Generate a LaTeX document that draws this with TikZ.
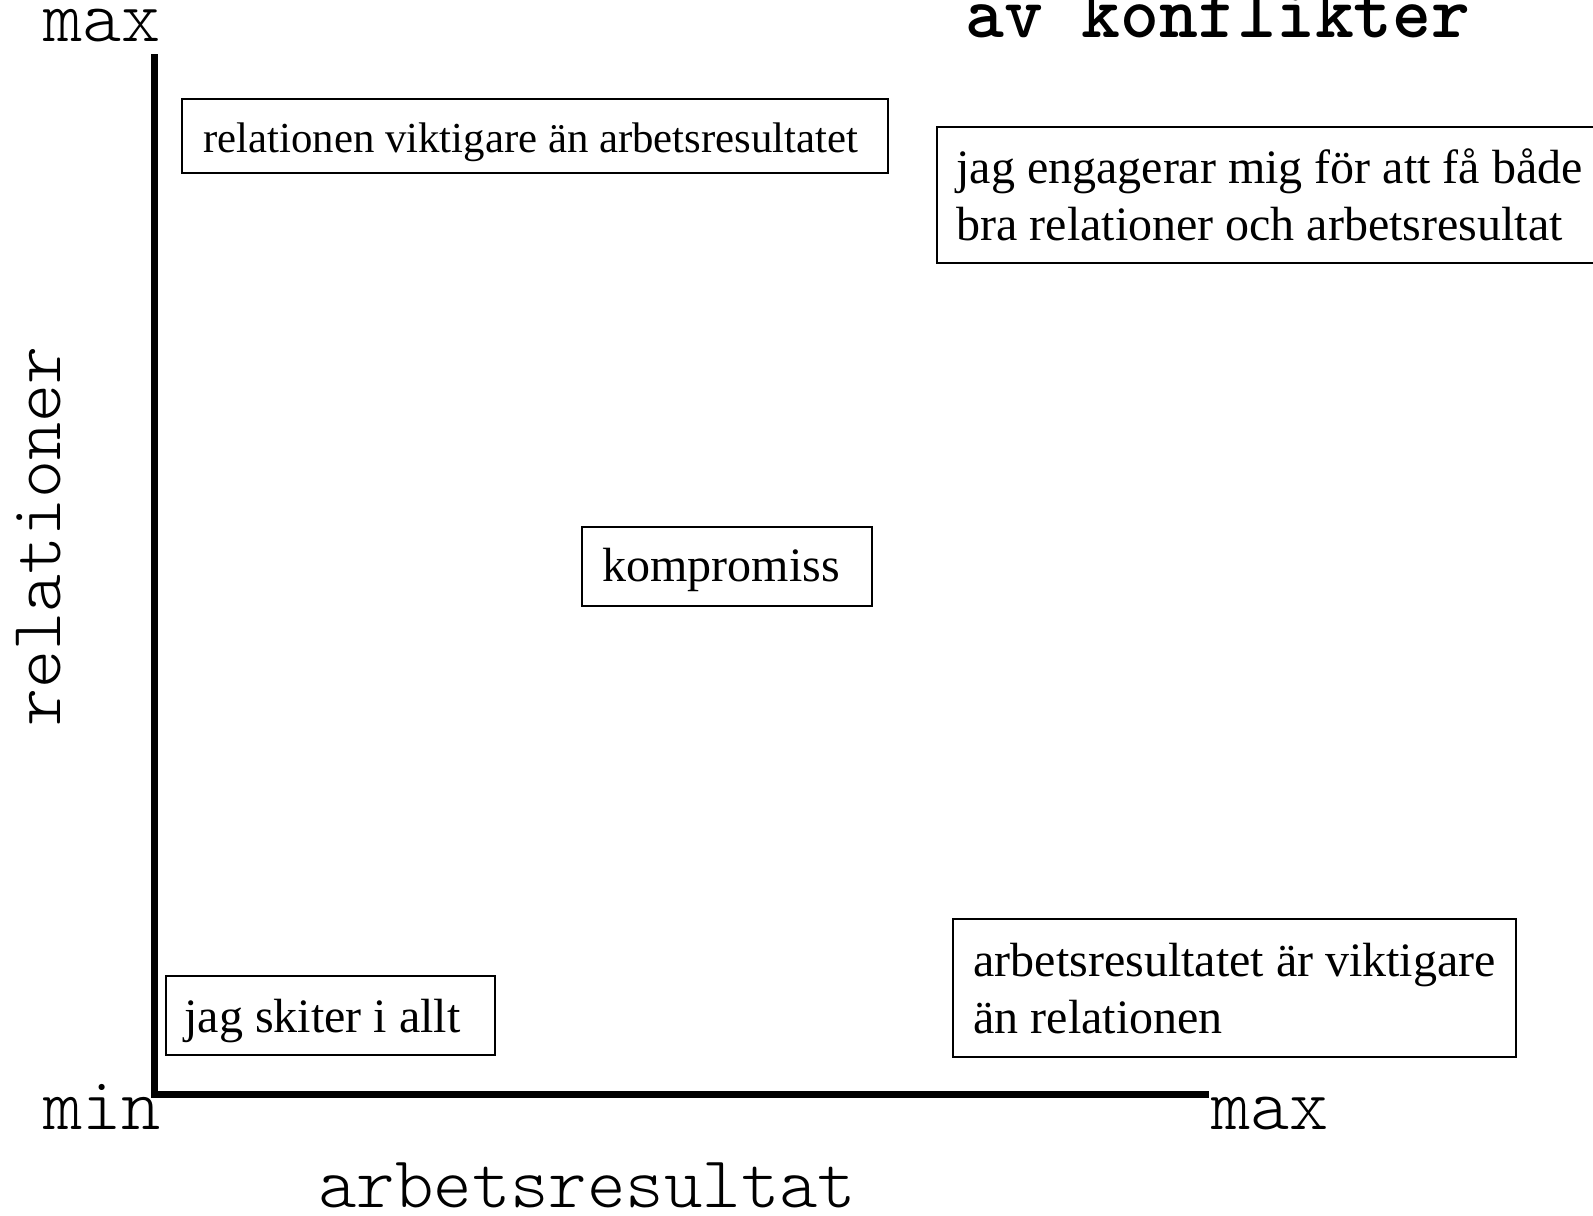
\documentclass[tikz,border=0pt]{standalone}
\usepackage{fontspec}
\setmainfont{Liberation Serif}
\newfontfamily\lmlight{lmmonolt10}[Extension=.otf, UprightFont=*-regular, BoldFont=*-bold]
\begin{document}
\begin{tikzpicture}[x=0.5pt,y=-0.5pt,
 axisline/.style={line width=3.5pt},
 boxframe/.style={line width=1pt},
 lbl/.style={font=\lmlight\fontsize{37.3}{40}\selectfont, inner sep=0pt, anchor=base west},
 txt/.style={font=\fontsize{24}{28.5}\selectfont, inner sep=0pt, align=left, anchor=base west},
]
\useasboundingbox (0,0) rectangle (1593,1215);
\coordinate (origin) at (154,1094);
\coordinate (ytop) at (154,54);
\coordinate (xend) at (1209,1094);
\draw[axisline] (ytop) -- (origin) -- (xend);
\node[lbl] (maxy) at (43,41) {max};
\node[lbl] (minl) at (43,1129) {min};
\node[lbl] (maxx) at (1211,1129) {max};
\node[lbl, font=\lmlight\fontsize{36.6}{40}\selectfont] (xlab) at (318,1207) {arbetsresultat};
\node[lbl, font=\lmlight\fontsize{36.2}{40}\selectfont, rotate=90] (ylab) at (60,727) {relationer};
\node[lbl, font=\lmlight\bfseries\fontsize{37}{40}\selectfont] (title) at (965,37) {av konflikter};
\draw[boxframe] (182,99) rectangle (888,173);
\node[txt, font=\fontsize{21.4}{25}\selectfont] (t1) at (203,152) {relationen viktigare än arbetsresultatet};
\draw[boxframe] (937,127) rectangle (1610,263);
\node[txt] (t2) at (956,240) {jag engagerar mig för att få både\\bra relationer och arbetsresultat};
\draw[boxframe] (582,527) rectangle (872,606);
\node[txt] (t3) at (602,581) {kompromiss};
\draw[boxframe] (166,976) rectangle (495,1055);
\node[txt] (t4) at (184,1032) {jag skiter i allt};
\draw[boxframe] (953,919) rectangle (1516,1057);
\node[txt] (t5) at (973,1033) {arbetsresultatet är viktigare\\än relationen};
\end{tikzpicture}
\end{document}
